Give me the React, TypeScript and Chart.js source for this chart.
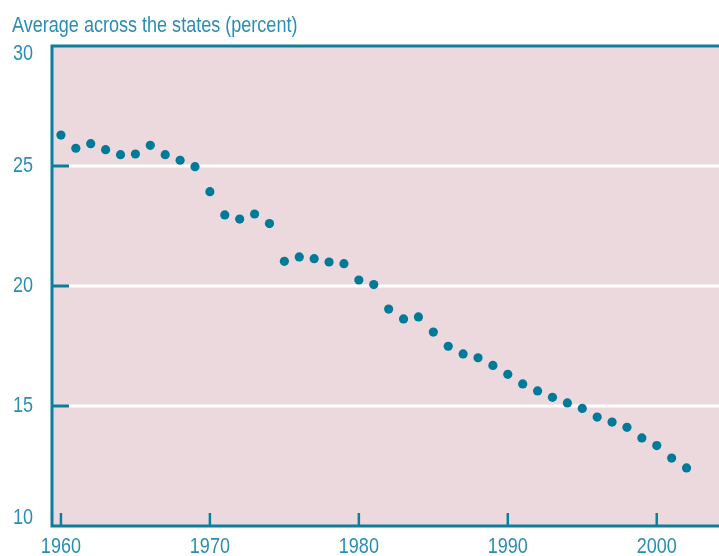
import React, { useEffect, useRef } from "react";
import { Chart, registerables } from "chart.js";

Chart.register(...registerables);

const years: number[] = [
  1960, 1961, 1962, 1963, 1964, 1965, 1966, 1967, 1968, 1969,
  1970, 1971, 1972, 1973, 1974, 1975, 1976, 1977, 1978, 1979,
  1980, 1981, 1982, 1983, 1984, 1985, 1986, 1987, 1988, 1989,
  1990, 1991, 1992, 1993, 1994, 1995, 1996, 1997, 1998, 1999,
  2000, 2001, 2002,
];
const averagePercent: number[] = [
  26.29, 25.74, 25.93, 25.68, 25.47, 25.5, 25.86, 25.47, 25.24, 24.97,
  23.93, 22.96, 22.79, 23.0, 22.6, 21.03, 21.21, 21.14, 21.0, 20.93,
  20.25, 20.06, 19.04, 18.63, 18.71, 18.08, 17.49, 17.17, 17.01, 16.69,
  16.32, 15.92, 15.63, 15.36, 15.13, 14.9, 14.54, 14.33, 14.11, 13.67,
  13.35, 12.83, 12.42,
];
const xTicks: number[] = [1960, 1970, 1980, 1990, 2000];
const yTicks: number[] = [10, 15, 20, 25, 30];
const yGridLines: number[] = [15, 20, 25];
const titleText = "Average across the states (percent)";

const FONT = "'Liberation Sans', Arial, sans-serif";
const TEXT = "#2a8db3";
const AXIS = "#0a80a0";
const DOT = "#007a99";
const BG = "#ebd9de";
const CONDENSE = 0.82;

// Condensed text look: every label is drawn with a horizontal squeeze around its anchor.
const condensePlugin = {
  id: "condense",
  beforeInit(chart: any) {
    const ctx = chart.ctx;
    if (ctx.__condensed) return;
    const orig = ctx.fillText.bind(ctx);
    ctx.fillText = function (text: string, x: number, y: number) {
      ctx.save();
      ctx.translate(x, y);
      ctx.scale(CONDENSE, 1);
      orig(text, 0, 0);
      ctx.restore();
    };
    ctx.__condensed = true;
  },
};

const framePlugin = {
  id: "frame",
  beforeDatasetsDraw(chart: any) {
    const { ctx, chartArea, scales } = chart;
    const xs = scales.x;
    const ys = scales.y;
    const left = chartArea.left;
    const right = chart.width;
    const top = ys.getPixelForValue(30);
    const bottom = ys.getPixelForValue(10);
    ctx.save();
    ctx.fillStyle = BG;
    ctx.fillRect(left, top, right - left, bottom - top);
    ctx.strokeStyle = "#ffffff";
    ctx.lineWidth = 3;
    yGridLines.forEach((v) => {
      const y = ys.getPixelForValue(v);
      ctx.beginPath();
      ctx.moveTo(left + 17, y);
      ctx.lineTo(right, y);
      ctx.stroke();
    });
    ctx.strokeStyle = AXIS;
    ctx.lineWidth = 3;
    yGridLines.forEach((v) => {
      const y = ys.getPixelForValue(v);
      ctx.beginPath();
      ctx.moveTo(left, y);
      ctx.lineTo(left + 17, y);
      ctx.stroke();
    });
    ctx.lineWidth = 2.5;
    xTicks.forEach((v) => {
      const x = xs.getPixelForValue(v);
      ctx.beginPath();
      ctx.moveTo(x, bottom);
      ctx.lineTo(x, bottom - 13);
      ctx.stroke();
    });
    ctx.lineWidth = 3;
    ctx.beginPath();
    ctx.moveTo(right, top);
    ctx.lineTo(left, top);
    ctx.lineTo(left, bottom);
    ctx.lineTo(right, bottom);
    ctx.stroke();
    ctx.restore();
  },
};

const yMin = yTicks[0];
const yMax = yTicks[yTicks.length - 1];

export default function App() {
  const ref = useRef<HTMLCanvasElement | null>(null);
  useEffect(() => {
    if (!ref.current) return;
    const chart = new Chart(ref.current, {
      type: "scatter",
      data: {
        datasets: [
          {
            data: years.map((y, i) => ({ x: y, y: averagePercent[i] })),
            backgroundColor: DOT,
            borderWidth: 0,
            pointRadius: 4.6,
            showLine: false,
          },
        ],
      },
      options: {
        animation: false,
        responsive: false,
        devicePixelRatio: 1,
        layout: { padding: { left: 12, top: 0, right: 0, bottom: 0 } },
        plugins: {
          legend: { display: false },
          tooltip: { enabled: false },
          title: {
            display: true,
            text: titleText,
            align: "start",
            color: TEXT,
            font: { family: FONT, size: 22, weight: "normal", lineHeight: 1.2 },
            padding: { top: 13.2, bottom: 6.4 },
          },
        },
        scales: {
          x: {
            type: "linear",
            min: 1959.4,
            max: 2003.87,
            afterBuildTicks: (s: any) => {
              s.ticks = xTicks.map((v) => ({ value: v }));
            },
            afterFit: (s: any) => {
              s.height = 30;
              s.paddingLeft = 0;
              s.paddingRight = 0;
            },
            grid: { display: false, drawTicks: false },
            border: { display: false },
            ticks: {
              color: TEXT,
              font: { family: FONT, size: 22 },
              padding: 8,
              maxRotation: 0,
              autoSkip: false,
              callback: (v: any) => String(v),
            },
          },
          y: {
            type: "linear",
            min: yMin,
            max: yMax,
            afterBuildTicks: (s: any) => {
              s.ticks = yTicks.map((v) => ({ value: v }));
            },
            afterFit: (s: any) => {
              s.width = 40;
              s.paddingTop = 0;
              s.paddingBottom = 0;
            },
            grid: { display: false, drawTicks: false },
            border: { display: false },
            ticks: {
              color: TEXT,
              font: (c: any) => {
                const v = c.tick ? c.tick.value : null;
                const edge = v === yMin || v === yMax;
                return { family: FONT, size: 22, lineHeight: edge ? "16px" : "24px" };
              },
              padding: 19,
              callback: (v: any) => {
                if (v === yMax) return ["", String(v)];
                if (v === yMin) return [String(v), ""];
                return String(v);
              },
            },
          },
        },
      },
      plugins: [condensePlugin, framePlugin],
    });
    return () => chart.destroy();
  }, []);
  return (
    <div style={{ position: "fixed", left: 0, top: 0, width: 719, height: 556, background: "#fff" }}>
      <canvas ref={ref} width={719} height={556} style={{ display: "block", width: 719, height: 556 }} />
    </div>
  );
}
